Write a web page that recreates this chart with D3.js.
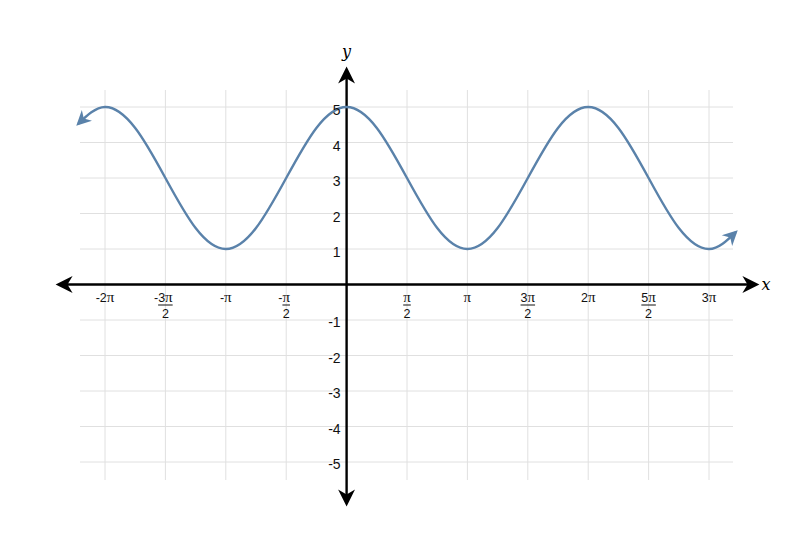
<!DOCTYPE html>
<html><head><meta charset="utf-8">
<script src="https://cdn.jsdelivr.net/npm/d3@7"></script>
<style>body{margin:0;background:#fff}svg{display:block}</style>
</head><body>
<script>
// x in units of π
const xTicks = [-2, -1.5, -1, -0.5, 0.5, 1, 1.5, 2, 2.5, 3];
const xTickLabels = ["-2π", "-3π/2", "-π", "-π/2", "π/2", "π", "3π/2", "2π", "5π/2", "3π"];
const yTicks = [-5, -4, -3, -2, -1, 1, 2, 3, 4, 5];
const yTickLabels = ["-5", "-4", "-3", "-2", "-1", "1", "2", "3", "4", "5"];
const gridX = [-2, -1.5, -1, -0.5, 0, 0.5, 1, 1.5, 2, 2.5, 3];
const gridY = [-5, -4, -3, -2, -1, 0, 1, 2, 3, 4, 5];
// curve points (x in π units, y)
const curveX = [-2.22, -2, -1.75, -1.5, -1.25, -1, -0.75, -0.5, -0.25, 0, 0.25, 0.5, 0.75, 1, 1.25, 1.5, 1.75, 2, 2.25, 2.5, 2.75, 3, 3.22];
const curveY = [4.53, 5, 4.41, 3, 1.59, 1, 1.59, 3, 4.41, 5, 4.41, 3, 1.59, 1, 1.59, 3, 4.41, 5, 4.41, 3, 1.59, 1, 1.47];

const W = 800, H = 553;
const svg = d3.select("body").append("svg").attr("width", W).attr("height", H);
const x = d3.scaleLinear().domain([-2, 3]).range([105, 709]);
const y = d3.scaleLinear().domain([-5, 5]).range([462, 107]);
const x0 = x(0), y0 = y(0);

const defs = svg.append("defs");
function marker(id, color, w, h) {
  defs.append("marker").attr("id", id).attr("viewBox", "0 0 10 10")
    .attr("refX", 8).attr("refY", 5).attr("markerUnits", "userSpaceOnUse")
    .attr("markerWidth", w).attr("markerHeight", h).attr("orient", "auto-start-reverse")
    .append("path").attr("d", "M0,0 L10,5 L0,10 L3,5 Z").attr("fill", color);
}
marker("axArrow", "#000", 22, 17);
marker("curveArrow", "#5a82aa", 17, 15);

// grid
const grid = svg.append("g").attr("stroke", "#e0e0e0").attr("stroke-width", 1);
grid.selectAll("line.v").data(gridX).enter().append("line")
  .attr("x1", d => x(d)).attr("x2", d => x(d)).attr("y1", 90).attr("y2", 480);
grid.selectAll("line.h").data(gridY).enter().append("line")
  .attr("y1", d => y(d)).attr("y2", d => y(d)).attr("x1", 80).attr("x2", 733);

// axes
svg.append("line").attr("x1", 59).attr("x2", 756).attr("y1", y0).attr("y2", y0)
  .attr("stroke", "#000").attr("stroke-width", 2.4)
  .attr("marker-start", "url(#axArrow)").attr("marker-end", "url(#axArrow)");
svg.append("line").attr("x1", x0).attr("x2", x0).attr("y1", 503).attr("y2", 70)
  .attr("stroke", "#000").attr("stroke-width", 2.4)
  .attr("marker-start", "url(#axArrow)").attr("marker-end", "url(#axArrow)");

svg.append("text").attr("x", 766).attr("y", 290).attr("text-anchor", "middle")
  .attr("font-family", "DejaVu Serif").attr("font-style", "italic").attr("font-size", 16).text("x");
svg.append("text").attr("x", x0).attr("y", 57).attr("text-anchor", "middle")
  .attr("font-family", "DejaVu Serif").attr("font-style", "italic").attr("font-size", 16).text("y");

// curve
const pts = curveX.map((v, i) => [v, curveY[i]]);
const line = d3.line().x(d => x(d[0])).y(d => y(d[1])).curve(d3.curveNatural);
svg.append("path").attr("d", line(pts)).attr("fill", "none").attr("stroke", "#5a82aa")
  .attr("stroke-width", 2.4).attr("marker-start", "url(#curveArrow)").attr("marker-end", "url(#curveArrow)");

// text helper: sans digits, serif π
function richText(g, str, tx, ty, anchor) {
  const t = g.append("text").attr("x", tx).attr("y", ty).attr("text-anchor", anchor);
  str.split(/(π)/).filter(s => s.length).forEach(s => {
    const ts = t.append("tspan").text(s);
    if (s === "π") ts.attr("font-family", "Liberation Serif").attr("font-size", 15);
  });
  return t;
}

const font = "Liberation Sans";
const xl = svg.append("g").attr("font-family", font).attr("font-size", 12.5).attr("fill", "#111");
xTicks.forEach((v, i) => {
  const lab = xTickLabels[i];
  const cx = x(v);
  if (lab.includes("/")) {
    const [num, den] = lab.split("/");
    const neg = num.startsWith("-");
    const core = neg ? num.slice(1) : num;
    const t = richText(xl, core, cx, 302, "middle");
    const bw = t.node().getComputedTextLength();
    if (neg) xl.append("text").attr("x", cx - bw / 2).attr("y", 302).attr("text-anchor", "end").text("-");
    xl.append("line").attr("x1", cx - bw / 2).attr("x2", cx + bw / 2).attr("y1", 305).attr("y2", 305)
      .attr("stroke", "#111").attr("stroke-width", 1);
    xl.append("text").attr("x", cx).attr("y", 318).attr("text-anchor", "middle").text(den);
  } else {
    richText(xl, lab, cx, 302, "middle");
  }
});

// y tick labels
const yl = svg.append("g").attr("font-family", font).attr("font-size", 14).attr("fill", "#111");
yTicks.forEach((v, i) => {
  yl.append("text").attr("x", x0 - 6).attr("y", y(v) + (v > 0 ? 8 : 7)).attr("text-anchor", "end").text(yTickLabels[i]);
});
</script>
</body></html>
